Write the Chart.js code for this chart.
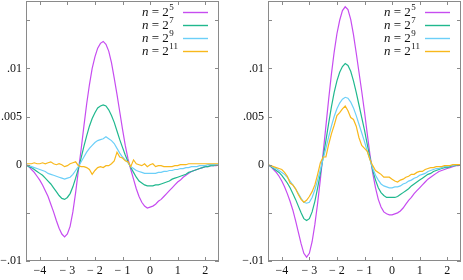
<!DOCTYPE html>
<html><head><meta charset="utf-8">
<script src="https://cdn.jsdelivr.net/npm/chart.js@4.4.1/dist/chart.umd.min.js"></script>
<style>
html,body{margin:0;padding:0;background:#fff;}
#wrap{position:relative;width:463px;height:280px;overflow:hidden;}
canvas{position:absolute;top:0;}
</style></head>
<body><div id="wrap"><canvas id="c1" width="232" height="280" style="left:0"></canvas><canvas id="c2" width="231" height="280" style="left:232px"></canvas></div>
<script>
const xs = [
-4.5,-4.4,-4.3,-4.2,-4.1,-4.0,-3.9,-3.8,-3.7,-3.6,
-3.5,-3.4,-3.3,-3.2,-3.1,-3.0,-2.9,-2.8,-2.7,-2.6,
-2.5,-2.4,-2.3,-2.2,-2.1,-2.0,-1.9,-1.8,-1.7,-1.6,
-1.5,-1.4,-1.3,-1.2,-1.1,-1.0,-0.9,-0.8,-0.7,-0.6,
-0.5,-0.4,-0.3,-0.2,-0.1,0.0,0.1,0.2,0.3,0.4,
0.5,0.6,0.7,0.8,0.9,1.0,1.1,1.2,1.3,1.4,
1.5,1.6,1.7,1.8,1.9,2.0,2.1,2.2,2.3,2.4,
2.5];

// left panel
const leftN5 = [
0,-0.0002,-0.0005,-0.0008,-0.0012,-0.0016,-0.0021,-0.0027,-0.0033,-0.0041,
-0.0049,-0.0058,-0.0066,-0.0072,-0.0075,-0.0072,-0.0064,-0.0049,-0.0029,-0.0006,
0.0016,0.0040,0.0063,0.0083,0.0100,0.0112,0.0121,0.0126,0.0128,0.0125,
0.0118,0.0106,0.0090,0.0073,0.0055,0.0037,0.0020,0.0006,-0.0005,-0.0015,
-0.0025,-0.0033,-0.0039,-0.0043,-0.0045,-0.0044,-0.0043,-0.0041,-0.0038,-0.0036,
-0.0033,-0.0030,-0.0027,-0.0024,-0.0021,-0.0018,-0.0016,-0.0013,-0.0011,-0.0009,
-0.0007,-0.0006,-0.0005,-0.0004,-0.0003,-0.0002,-0.0002,-0.0001,-0.0001,-0.0001,
0];
const leftN7 = [
0,-0.0002,-0.0003,-0.0005,-0.0007,-0.0009,-0.0011,-0.0014,-0.0017,-0.0020,
-0.0024,-0.0028,-0.0032,-0.0035,-0.0036,-0.0034,-0.0030,-0.0023,-0.0014,-0.0004,
0.0007,0.0019,0.0030,0.0040,0.0048,0.0054,0.0059,0.0061,0.0062,0.0061,
0.0057,0.0051,0.0044,0.0035,0.0026,0.0018,0.0010,0.0003,-0.0003,-0.0008,
-0.0013,-0.0017,-0.0019,-0.0021,-0.0022,-0.0022,-0.0022,-0.0021,-0.0021,-0.0020,
-0.0019,-0.0018,-0.0017,-0.0015,-0.0014,-0.0013,-0.0012,-0.0011,-0.0010,-0.0008,
-0.0007,-0.0006,-0.0005,-0.0004,-0.0003,-0.0002,-0.0002,-0.0001,-0.0001,0,
0];
const leftN9 = [
0,-0.0001,-0.0002,-0.0003,-0.0004,-0.0005,-0.0006,-0.0007,-0.0009,-0.0010,
-0.0011,-0.0012,-0.0013,-0.0014,-0.0015,-0.0014,-0.0013,-0.0010,-0.0006,-0.0002,
0.0003,0.0008,0.0013,0.0017,0.0020,0.0023,0.0025,0.0026,0.0027,0.0029,
0.0027,0.0025,0.0022,0.0017,0.0012,0.0008,0.0005,0.0002,-0.0002,-0.0004,
-0.0006,-0.0007,-0.0008,-0.0009,-0.0009,-0.0009,-0.0009,-0.0009,-0.0008,-0.0008,
-0.0007,-0.0007,-0.0006,-0.0006,-0.0005,-0.0005,-0.0004,-0.0004,-0.0003,-0.0003,
-0.0002,-0.0002,-0.0002,-0.0001,-0.0001,-0.0001,0,0,0,0,
0];
const leftN11 = [
0.0001,0.0001,0.0001,0.0002,0.0001,0.0001,0.0002,0.0001,0.0002,0.0003,
0.0001,0.0000,0.0001,0.0000,-0.0002,-0.0001,0.0001,0.0002,0.0003,-0.0001,
-0.0002,-0.0002,-0.0003,-0.0005,-0.0010,-0.0006,-0.0003,-0.0002,-0.0003,-0.0001,
-0.0001,0.0001,0.0004,0.0013,0.0008,0.0007,0.0004,0.0003,-0.0002,0.0005,
0.0001,0.0000,-0.0001,0.0001,-0.0002,0.0000,0.0001,-0.0002,-0.0001,-0.0001,
-0.0002,-0.0002,-0.0002,-0.0002,-0.0001,-0.0001,0.0000,0.0000,0.0000,0.0001,
0.0001,0.0001,0.0001,0.0001,0.0001,0.0001,0.0001,0.0001,0.0001,0.0001,
0.0001];

// right panel
const rightN5 = [
0,-0.0002,-0.0005,-0.0008,-0.0012,-0.0017,-0.0023,-0.0030,-0.0038,-0.0047,
-0.0058,-0.0070,-0.0082,-0.0092,-0.0096,-0.0092,-0.0080,-0.0062,-0.0040,-0.0015,
0.0012,0.0040,0.0068,0.0094,0.0117,0.0136,0.0150,0.0160,0.0164,0.0161,
0.0151,0.0135,0.0116,0.0096,0.0076,0.0055,0.0032,0.0010,-0.0009,-0.0024,
-0.0036,-0.0044,-0.0049,-0.0051,-0.0052,-0.0052,-0.0051,-0.0050,-0.0048,-0.0045,
-0.0041,-0.0037,-0.0034,-0.0030,-0.0027,-0.0024,-0.0021,-0.0018,-0.0015,-0.0013,
-0.0011,-0.0009,-0.0007,-0.0006,-0.0005,-0.0004,-0.0003,-0.0002,-0.0001,-0.0001,
0];
const rightN7 = [
0,-0.0002,-0.0004,-0.0006,-0.0008,-0.0011,-0.0015,-0.0019,-0.0024,-0.0030,
-0.0036,-0.0043,-0.0050,-0.0056,-0.0058,-0.0056,-0.0049,-0.0038,-0.0024,-0.0009,
0.0008,0.0025,0.0043,0.0060,0.0075,0.0087,0.0096,0.0102,0.0105,0.0103,
0.0097,0.0087,0.0075,0.0062,0.0049,0.0036,0.0021,0.0007,-0.0006,-0.0016,
-0.0024,-0.0029,-0.0032,-0.0034,-0.0034,-0.0034,-0.0034,-0.0033,-0.0031,-0.0029,
-0.0027,-0.0025,-0.0022,-0.0020,-0.0018,-0.0016,-0.0014,-0.0012,-0.0010,-0.0009,
-0.0007,-0.0006,-0.0005,-0.0004,-0.0003,-0.0003,-0.0002,-0.0001,-0.0001,0,
0];
const rightN9 = [
0,-0.0001,-0.0003,-0.0004,-0.0006,-0.0008,-0.0010,-0.0013,-0.0017,-0.0021,
-0.0025,-0.0030,-0.0035,-0.0039,-0.0040,-0.0039,-0.0034,-0.0026,-0.0016,-0.0005,
0.0006,0.0017,0.0029,0.0040,0.0050,0.0058,0.0064,0.0068,0.0070,0.0069,
0.0065,0.0059,0.0051,0.0042,0.0033,0.0024,0.0014,0.0005,-0.0004,-0.0011,
-0.0016,-0.0020,-0.0022,-0.0023,-0.0024,-0.0024,-0.0023,-0.0023,-0.0022,-0.0020,
-0.0019,-0.0017,-0.0016,-0.0014,-0.0013,-0.0011,-0.0010,-0.0009,-0.0007,-0.0006,
-0.0005,-0.0004,-0.0004,-0.0003,-0.0002,-0.0002,-0.0001,-0.0001,0,0,
0];
const rightN11 = [
0,-0.0001,-0.0002,-0.0003,-0.0004,-0.0005,-0.0008,-0.0012,-0.0019,-0.0021,
-0.0025,-0.0031,-0.0036,-0.0039,-0.0037,-0.0033,-0.0028,-0.0021,-0.0010,0.0002,
0.0008,0.0008,0.0021,0.0032,0.0041,0.0051,0.0054,0.0058,0.0061,0.0056,
0.0049,0.0047,0.0040,0.0028,0.0020,0.0017,0.0014,0.0005,-0.0001,-0.0006,
-0.0008,-0.0010,-0.0013,-0.0013,-0.0013,-0.0015,-0.0017,-0.0018,-0.0016,-0.0015,
-0.0013,-0.0012,-0.0010,-0.0010,-0.0008,-0.0007,-0.0007,-0.0005,-0.0004,-0.0003,
-0.0003,-0.0002,-0.0002,-0.0002,-0.0001,-0.0001,-0.0001,0,0,0,
0];

const xTickValues = [-4,-3,-2,-1,0,1,2];
const xTickLabels = ['\u22124','\u2212 3','\u2212 2','\u2212 1','0','1','2'];
const yTickValues = [-0.01,-0.005,0,0.005,0.01,0.015];
const yTickLabels = ['\u2212.01','','0','.005','.01',''];
const legendExponents = ['5','7','9','11'];
const seriesColors = ['#c64cf0','#20b88e','#6ccff8','#f8b81c'];

const FONT = "'Liberation Serif', 'DejaVu Serif', serif";
const AXIS_GREY = '#8a8a8a';

const framePlugin = {
  id: 'frame',
  afterDraw(chart) {
    const ctx = chart.ctx, a = chart.chartArea;
    const xs_ = chart.scales.x, ys_ = chart.scales.y;
    ctx.save();
    ctx.strokeStyle = AXIS_GREY;
    ctx.lineWidth = 1;
    ctx.strokeRect(Math.round(a.left) + 0.5, Math.round(a.top) + 0.5,
                   Math.round(a.right - a.left) - 1, Math.round(a.bottom - a.top) - 1);
    const TL = 4;
    ctx.beginPath();
    xTickValues.forEach(v => {
      const px = Math.round(xs_.getPixelForValue(v)) + 0.5;
      ctx.moveTo(px, a.bottom); ctx.lineTo(px, a.bottom - TL);
      ctx.moveTo(px, a.top); ctx.lineTo(px, a.top + TL);
    });
    yTickValues.forEach(v => {
      const py = Math.round(ys_.getPixelForValue(v)) + 0.5;
      ctx.moveTo(a.left, py); ctx.lineTo(a.left + TL, py);
      ctx.moveTo(a.right, py); ctx.lineTo(a.right - TL, py);
    });
    ctx.stroke();
    // legend
    const textX = a.right - 77, l0 = a.right - 36, l1 = a.right - 11;
    chart.data.datasets.forEach((ds, i) => {
      const y = a.top + 11 + i * 13;
      ctx.fillStyle = '#111';
      ctx.textBaseline = 'middle';
      ctx.textAlign = 'left';
      ctx.font = 'italic 13px ' + FONT;
      ctx.fillText('n', textX, y + 1);
      let x = textX + ctx.measureText('n').width;
      ctx.font = '13px ' + FONT;
      const eq = ' = 2';
      ctx.fillText(eq, x, y + 1);
      x += ctx.measureText(eq).width;
      ctx.font = '9px ' + FONT;
      ctx.fillText(legendExponents[i], x + 0.5, y - 4);
      ctx.strokeStyle = ds.borderColor;
      ctx.lineWidth = 1.4;
      ctx.beginPath();
      ctx.moveTo(l0, y + 0.5); ctx.lineTo(l1, y + 0.5);
      ctx.stroke();
    });
    ctx.restore();
  }
};

function makeChart(id, series, yAxisWidth, padRight) {
  const datasets = series.map((ys, i) => ({
    data: xs.map((x, k) => ({x: x, y: ys[k]})),
    borderColor: seriesColors[i],
    borderWidth: 1.2,
    pointRadius: 0,
    tension: 0,
    fill: false,
    order: series.length - i
  }));
  return new Chart(document.getElementById(id), {
    type: 'line',
    data: { datasets },
    options: {
      responsive: false,
      animation: false,
      devicePixelRatio: 1,
      layout: { padding: { top: 1, right: padRight, left: 0, bottom: 0 } },
      plugins: { legend: { display: false }, tooltip: { enabled: false } },
      scales: {
        x: {
          type: 'linear', min: -4.5, max: 2.5,
          afterBuildTicks: s => { s.ticks = xTickValues.map(v => ({ value: v })); },
          afterFit: s => { s.height = 19; s.paddingLeft = 0; s.paddingRight = 0; },
          grid: { display: false, drawTicks: false },
          border: { display: false },
          ticks: {
            autoSkip: false, maxRotation: 0, padding: 3,
            color: '#111', font: { family: FONT, size: 12 },
            callback: v => xTickLabels[xTickValues.indexOf(v)]
          }
        },
        y: {
          type: 'linear', min: -0.01, max: 0.017,
          afterBuildTicks: s => { s.ticks = yTickValues.map(v => ({ value: v })); },
          afterFit: s => { s.width = yAxisWidth; s.paddingTop = 0; s.paddingBottom = 0; },
          grid: { display: false, drawTicks: false },
          border: { display: false },
          ticks: {
            autoSkip: false, padding: 4,
            color: '#111', font: { family: FONT, size: 12 },
            callback: v => yTickLabels[yTickValues.indexOf(v)]
          }
        }
      }
    },
    plugins: [framePlugin]
  });
}

makeChart('c1', [leftN5, leftN7, leftN9, leftN11], 26, 13);
makeChart('c2', [rightN5, rightN7, rightN9, rightN11], 36, 2);
</script>
</body></html>
